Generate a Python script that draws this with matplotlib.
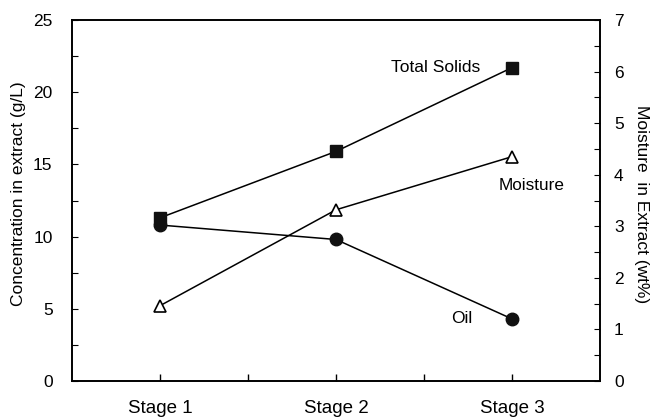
import matplotlib
matplotlib.use("Agg")
import matplotlib.pyplot as plt
from matplotlib.ticker import MultipleLocator

plt.rcParams['font.family'] = ['Liberation Sans', 'DejaVu Sans']

stages = ["Stage 1", "Stage 2", "Stage 3"]
stage_pos = [1, 2, 3]
total_solids = [11.3, 15.9, 21.7]   # g/L
oil = [10.8, 9.8, 4.3]              # g/L
moisture = [1.46, 3.32, 4.35]       # wt%

W, H = 652, 420
fig = plt.figure(figsize=(W / 100, H / 100), dpi=100)
ax = fig.add_axes([72/W, 1 - 381/H, 528/W, 361/H])
ax2 = ax.twinx()

ax.plot(stage_pos, total_solids, color='black', lw=1.1, marker='s', ms=8.5,
        mfc='#111111', mec='#111111', zorder=3)
ax.plot(stage_pos, oil, color='black', lw=1.1, marker='o', ms=9,
        mfc='#111111', mec='#111111', zorder=3)
ax2.plot(stage_pos, moisture, color='black', lw=1.1, marker='^', ms=8,
         mfc='white', mec='black', mew=1.2, zorder=3)

ax.set_xlim(0.5, 3.5)
ax.set_ylim(0, 25)
ax2.set_ylim(0, 7)

ax.set_xticks([1, 1.5, 2, 2.5, 3])
ax.set_xticklabels([stages[0], "", stages[1], "", stages[2]])
ax.yaxis.set_major_locator(MultipleLocator(5))
ax.yaxis.set_minor_locator(MultipleLocator(2.5))
ax2.yaxis.set_major_locator(MultipleLocator(1))
ax2.yaxis.set_minor_locator(MultipleLocator(0.5))

ax.tick_params(axis='x', direction='in', length=5, width=1, labelsize=13.5, pad=14)
ax.tick_params(axis='y', which='both', direction='in', length=4, width=0.8,
               labelsize=12.5, pad=14)
ax2.tick_params(axis='y', which='both', direction='in', length=4, width=0.8,
                labelsize=12.5, pad=10)

for a in (ax, ax2):
    for s in a.spines.values():
        s.set_linewidth(1.2)

# axis titles placed in figure pixels
fig.text(19/W, 1 - 194/H, "Concentration in extract (g/L)", fontsize=12.5,
         rotation=90, ha='center', va='center')
fig.text(641/W, 1 - 204/H, "Moisture  in Extract (wt%)", fontsize=12.5,
         rotation=-90, ha='center', va='center')

ax.text(2.818, 21.7, "Total Solids", fontsize=12.5, ha='right', va='center')
ax2.text(3.114, 3.80, "Moisture", fontsize=12.3, ha='center', va='center')
ax.text(2.716, 4.3, "Oil", fontsize=12.5, ha='center', va='center')

fig.savefig("out.png", dpi=100)
